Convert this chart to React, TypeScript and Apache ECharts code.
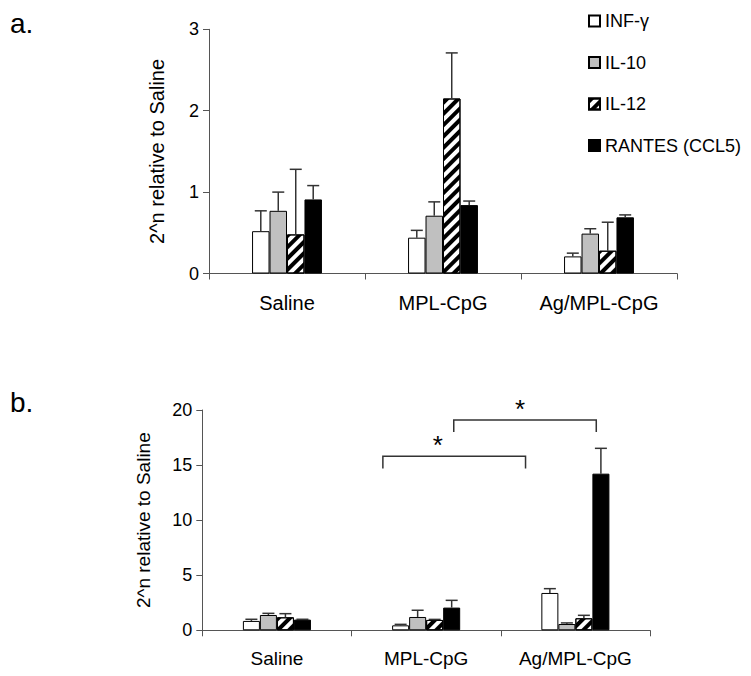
import React, { useEffect, useRef } from "react";
import * as echarts from "echarts";

const categories = ["Saline", "MPL-CpG", "Ag/MPL-CpG"];
const seriesNames = ["INF-γ", "IL-10", "IL-12", "RANTES (CCL5)"];

// Panel a (means and upper error)
const aINF = [0.52, 0.44, 0.21];
const aIL10 = [0.77, 0.71, 0.49];
const aIL12 = [0.48, 2.15, 0.28];
const aRANTES = [0.91, 0.84, 0.69];
const aErrINF = [0.25, 0.09, 0.04];
const aErrIL10 = [0.23, 0.17, 0.06];
const aErrIL12 = [0.8, 0.56, 0.35];
const aErrRANTES = [0.17, 0.05, 0.03];

// Panel b
const bINF = [0.85, 0.45, 3.39];
const bIL10 = [1.39, 1.21, 0.57];
const bIL12 = [1.18, 0.94, 1.09];
const bRANTES = [0.97, 2.06, 14.22];
const bErrINF = [0.15, 0.09, 0.39];
const bErrIL10 = [0.15, 0.61, 0.1];
const bErrIL12 = [0.33, 0.05, 0.27];
const bErrRANTES = [0.03, 0.66, 2.3];

// Significance brackets in panel b
const bracketFromCat = [1, 1];
const bracketFromShift = [-0.29, 0.185];
const bracketToCat = [2, 2];
const bracketToShift = [-0.334, 0.14];
const bracketY = [15.8, 19.1];
const bracketEndY = [14.7, 18.0];
const starCat = [1, 2];
const starShift = [0.078, -0.37];
const starY = [17.4, 20.65];

const FONT = "'Liberation Sans', Arial, sans-serif";
const AXIS_COLOR = "#555";
const BAR_FRAC_A = 0.112;
const BAR_FRAC_B = 0.114;

const barStyles: any[] = [
  { color: "#ffffff", borderColor: "#000", borderWidth: 1 },
  { color: "#c0c0c0", borderColor: "#000", borderWidth: 1 },
  {
    color: "#ffffff",
    borderColor: "#000",
    borderWidth: 1,
    decal: {
      symbol: "rect",
      symbolSize: 1,
      dashArrayX: [1, 0],
      dashArrayY: [4, 4],
      rotation: -Math.PI / 4,
      color: "#000",
      backgroundColor: "#fff",
    },
  },
  { color: "#000000", borderColor: "#000", borderWidth: 1 },
];

function barSeries(name: string, data: number[], idx: number, axis: number, frac: number) {
  return {
    type: "bar",
    name,
    xAxisIndex: axis,
    yAxisIndex: axis,
    data,
    barWidth: `${frac * 100}%`,
    barGap: "0%",
    itemStyle: barStyles[idx],
    z: 2,
  };
}

function errorSeries(means: number[], errs: number[], idx: number, axis: number, frac: number) {
  return {
    type: "custom",
    xAxisIndex: axis,
    yAxisIndex: axis,
    silent: true,
    z: 3,
    data: means.map((m, i) => [i, m, m + errs[i]]),
    encode: { x: 0, y: [1, 2] },
    renderItem: (params: any, api: any) => {
      const cat = api.value(0);
      const lo = api.coord([cat, api.value(1)]);
      const hi = api.coord([cat, api.value(2)]);
      const band = api.size([1, 0])[0];
      const x = lo[0] + (idx - 1.5) * band * frac;
      const st = { stroke: "#333", lineWidth: 1.5 };
      return {
        type: "group",
        children: [
          { type: "line", shape: { x1: x, y1: lo[1], x2: x, y2: hi[1] }, style: st },
          { type: "line", shape: { x1: x - 6, y1: hi[1], x2: x + 6, y2: hi[1] }, style: st },
        ],
      };
    },
  };
}

export default function App() {
  const ref = useRef<HTMLDivElement>(null);
  useEffect(() => {
    document.body.style.margin = "0";
    const chart = echarts.init(ref.current!, undefined, { renderer: "svg" });
    const bracketData = bracketFromCat.map((c, i) => [
      c,
      bracketFromShift[i],
      bracketToCat[i],
      bracketToShift[i],
      bracketY[i],
      bracketEndY[i],
      starCat[i],
      starShift[i],
      starY[i],
    ]);
    const yAxisCommon = (fs: number) => ({
      type: "value",
      nameLocation: "middle",
      nameRotate: 90,
      nameTextStyle: { fontSize: fs, color: "#000", fontFamily: FONT },
      axisLine: { show: true, lineStyle: { color: AXIS_COLOR, width: 1 } },
      axisTick: { show: true, length: 6, lineStyle: { color: AXIS_COLOR } },
      axisLabel: { fontSize: 18, color: "#000", fontFamily: FONT, margin: 10 },
      splitLine: { show: false },
    });
    const xAxisCommon = (fs: number) => ({
      type: "category",
      data: categories,
      axisLine: { show: true, lineStyle: { color: AXIS_COLOR, width: 1 } },
      axisTick: { show: true, length: 6, lineStyle: { color: AXIS_COLOR } },
      axisLabel: { fontSize: fs, color: "#000", fontFamily: FONT, margin: 19 },
    });
    chart.setOption({
      animation: false,
      backgroundColor: "#fff",
      textStyle: { fontFamily: FONT },
      title: [
        { text: "a.", left: 5, top: 4, textStyle: { fontSize: 28, fontWeight: "normal", color: "#000", fontFamily: FONT } },
        { text: "b.", left: 5, top: 383, textStyle: { fontSize: 28, fontWeight: "normal", color: "#000", fontFamily: FONT } },
      ],
      legend: {
        data: seriesNames,
        orient: "vertical",
        left: 583,
        top: 7,
        icon: "rect",
        itemWidth: 11,
        itemHeight: 11,
        itemGap: 23.5,
        textStyle: { fontSize: 18, color: "#000", fontFamily: FONT },
        selectedMode: false,
      },
      grid: [
        { left: 209, top: 29.3, width: 468, height: 244.2 },
        { left: 202.3, top: 410, width: 447.7, height: 220.3 },
      ],
      xAxis: [
        { ...xAxisCommon(20), gridIndex: 0 },
        { ...xAxisCommon(19), gridIndex: 1 },
      ],
      yAxis: [
        { ...yAxisCommon(20), gridIndex: 0, min: 0, max: 3, interval: 1, name: "2^n relative to Saline", nameGap: 42 },
        { ...yAxisCommon(19), gridIndex: 1, min: 0, max: 20, interval: 5, name: "2^n relative to Saline", nameGap: 49 },
      ],
      series: [
        barSeries(seriesNames[0], aINF, 0, 0, BAR_FRAC_A),
        barSeries(seriesNames[1], aIL10, 1, 0, BAR_FRAC_A),
        barSeries(seriesNames[2], aIL12, 2, 0, BAR_FRAC_A),
        barSeries(seriesNames[3], aRANTES, 3, 0, BAR_FRAC_A),
        barSeries(seriesNames[0], bINF, 0, 1, BAR_FRAC_B),
        barSeries(seriesNames[1], bIL10, 1, 1, BAR_FRAC_B),
        barSeries(seriesNames[2], bIL12, 2, 1, BAR_FRAC_B),
        barSeries(seriesNames[3], bRANTES, 3, 1, BAR_FRAC_B),
        errorSeries(aINF, aErrINF, 0, 0, BAR_FRAC_A),
        errorSeries(aIL10, aErrIL10, 1, 0, BAR_FRAC_A),
        errorSeries(aIL12, aErrIL12, 2, 0, BAR_FRAC_A),
        errorSeries(aRANTES, aErrRANTES, 3, 0, BAR_FRAC_A),
        errorSeries(bINF, bErrINF, 0, 1, BAR_FRAC_B),
        errorSeries(bIL10, bErrIL10, 1, 1, BAR_FRAC_B),
        errorSeries(bIL12, bErrIL12, 2, 1, BAR_FRAC_B),
        errorSeries(bRANTES, bErrRANTES, 3, 1, BAR_FRAC_B),
        {
          type: "custom",
          xAxisIndex: 1,
          yAxisIndex: 1,
          silent: true,
          clip: false,
          z: 4,
          data: bracketData,
          encode: { x: 0, y: 4 },
          renderItem: (params: any, api: any) => {
            const band = api.size([1, 0])[0];
            const a = api.coord([api.value(0), api.value(4)]);
            const b = api.coord([api.value(2), api.value(4)]);
            const e = api.coord([api.value(0), api.value(5)]);
            const s = api.coord([api.value(6), api.value(8)]);
            const x1 = a[0] + api.value(1) * band;
            const x2 = b[0] + api.value(3) * band;
            const sx = s[0] + api.value(7) * band;
            return {
              type: "group",
              children: [
                {
                  type: "polyline",
                  shape: { points: [[x1, e[1]], [x1, a[1]], [x2, a[1]], [x2, e[1]]] },
                  style: { stroke: "#333", lineWidth: 1.5, fill: "none" },
                },
                {
                  type: "text",
                  x: sx,
                  y: s[1] + 6,
                  style: { text: "*", fontSize: 26, fontFamily: FONT, fill: "#000", align: "center", verticalAlign: "middle" },
                },
              ],
            };
          },
        },
      ],
    });
    return () => chart.dispose();
  }, []);
  return <div ref={ref} style={{ width: 751, height: 676 }} />;
}
